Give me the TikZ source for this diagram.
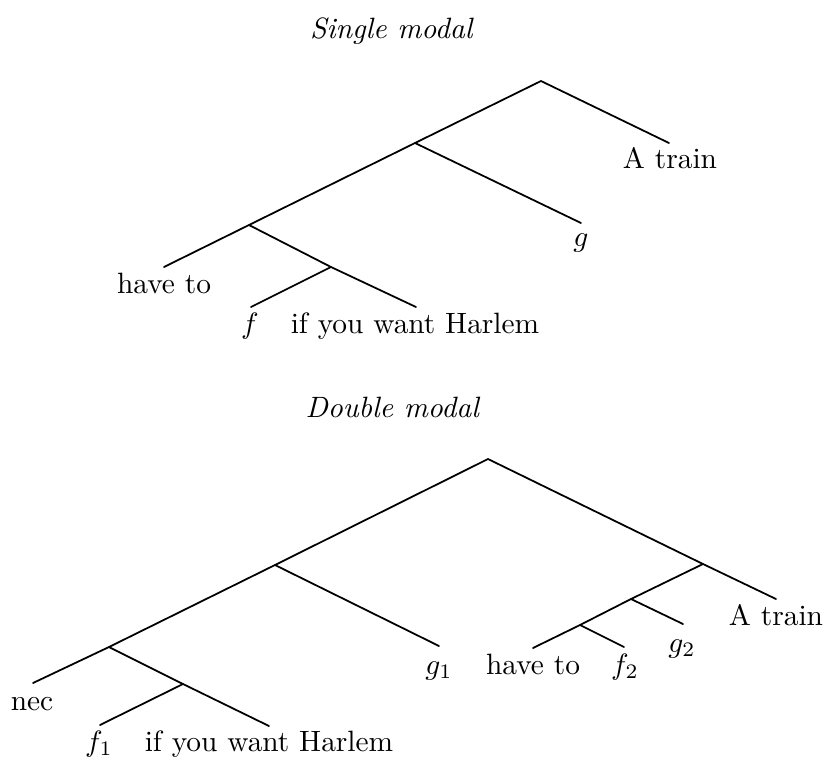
\documentclass[tikz,border=0pt]{standalone}
\begin{document}
\begin{tikzpicture}[x=0.34pt,y=-0.34pt,
  br/.style={line width=0.6pt, line cap=round, line join=round},
  lbl/.style={anchor=base, inner sep=0pt}]
\useasboundingbox (0,0) rectangle (825,756);
% ---------- Single modal ----------
\node[lbl] (t1) at (392,38) {\textit{Single modal}};
\coordinate (a0) at (541,81);
\coordinate (a1) at (415,143);
\coordinate (a2) at (249,225);
\coordinate (a3) at (331,267);
\coordinate (aTrain) at (669,143);
\coordinate (ag) at (581,223);
\coordinate (aHave) at (164,267);
\coordinate (af) at (251,307);
\coordinate (aH) at (416,307);
\draw[br] (aTrain) -- (a0) -- (a1) -- (a2) -- (aHave);
\draw[br] (a1) -- (ag);
\draw[br] (a2) -- (a3) -- (aH);
\draw[br] (a3) -- (af);
\node[lbl] (lATrain) at (670,168) {A train};
\node[lbl] (lAg) at (581,246) {$g$};
\node[lbl] (lAHave) at (164,293) {have to};
\node[lbl] (lAf) at (250,333) {$f$};
\node[lbl] (lAH) at (415,333) {if you want Harlem};
% ---------- Double modal ----------
\node[lbl] (t2) at (393,417) {\textit{Double modal}};
\coordinate (b0) at (488,459);
\coordinate (r1) at (703,564);
\coordinate (r2) at (631,599);
\coordinate (r3) at (580,625);
\coordinate (n1) at (275,565);
\coordinate (n2) at (109,647);
\coordinate (n3) at (183,684);
\coordinate (bTrain) at (776,599);
\coordinate (bg2) at (683,624);
\coordinate (bHave) at (533,648);
\coordinate (bf2) at (624,647);
\coordinate (bg1) at (439,646);
\coordinate (bNec) at (33,683);
\coordinate (bf1) at (100,725);
\coordinate (bH) at (269,726);
\draw[br] (bTrain) -- (r1) -- (b0) -- (n1) -- (n2) -- (bNec);
\draw[br] (r1) -- (r2) -- (r3) -- (bHave);
\draw[br] (r2) -- (bg2);
\draw[br] (r3) -- (bf2);
\draw[br] (n1) -- (bg1);
\draw[br] (n2) -- (n3) -- (bH);
\draw[br] (n3) -- (bf1);
\node[lbl] (lBTrain) at (776,625) {A train};
\node[lbl] (lBg2) at (682,652) {$g_2$};
\node[lbl] (lBHave) at (533,674) {have to};
\node[lbl] (lBf2) at (625,674) {$f_2$};
\node[lbl] (lBg1) at (439,674) {$g_1$};
\node[lbl] (lBNec) at (32,710) {nec};
\node[lbl] (lBf1) at (99,751) {$f_1$};
\node[lbl] (lBH) at (269,751) {if you want Harlem};
\end{tikzpicture}
\end{document}
